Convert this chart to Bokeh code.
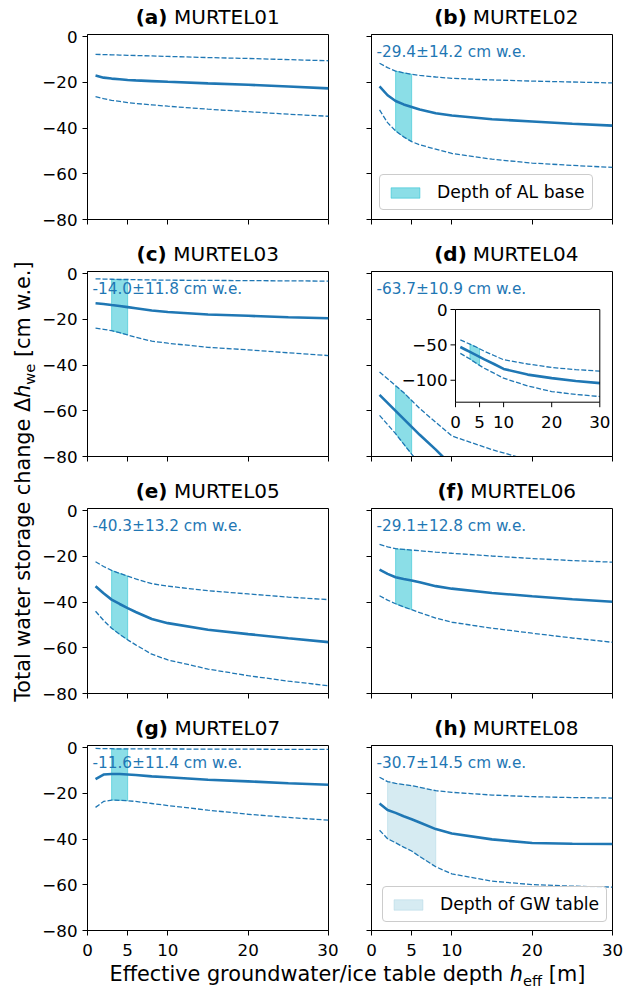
import math
from bokeh.plotting import figure
from bokeh.models import Range1d, FixedTicker, Label, Legend, LegendItem
from bokeh.layouts import row, column
from bokeh.embed import file_html
from bokeh.resources import INLINE
from bokeh.core.properties import value

# ---------------- data ----------------
depth = [1, 2, 3, 4, 5, 6, 8, 10, 15, 20, 25, 30]
x_ticks = [0, 5, 10, 20, 30]
y_ticks = [0, -20, -40, -60, -80]
y_tick_labels = ["0", "\u221220", "\u221240", "\u221260", "\u221280"]
x_tick_labels = ["0", "5", "10", "20", "30"]
inset_y_ticks = [0, -50, -100]
inset_y_labels = ["0", "\u221250", "\u2212100"]

panel_letters = ["(a)", "(b)", "(c)", "(d)", "(e)", "(f)", "(g)", "(h)"]
site_names = ["MURTEL01", "MURTEL02", "MURTEL03", "MURTEL04",
              "MURTEL05", "MURTEL06", "MURTEL07", "MURTEL08"]

mean_a = [-17.0, -17.9, -18.3, -18.6, -18.9, -19.1, -19.4, -19.7, -20.4, -21.0, -21.8, -22.6]
upper_a = [-7.7, -7.8, -7.9, -8.0, -8.1, -8.2, -8.4, -8.6, -9.1, -9.5, -10.0, -10.5]
lower_a = [-26.2, -27.1, -27.8, -28.3, -28.8, -29.2, -29.8, -30.4, -31.7, -32.8, -33.9, -34.8]

mean_b = [-21.7, -25.6, -28.1, -29.6, -30.7, -31.8, -33.5, -34.5, -36.1, -37.1, -38.1, -38.9]
upper_b = [-11.6, -13.5, -15.0, -15.8, -16.4, -16.9, -17.6, -18.2, -18.9, -19.4, -19.8, -20.2]
lower_b = [-32.0, -37.6, -41.2, -43.8, -45.9, -47.3, -49.2, -51.1, -53.6, -55.3, -56.3, -57.2]

mean_c = [-12.9, -13.2, -13.7, -14.1, -14.6, -15.1, -16.1, -16.7, -17.8, -18.4, -19.0, -19.5]
upper_c = [-2.2, -2.3, -2.4, -2.5, -2.5, -2.6, -2.7, -2.8, -2.9, -3.0, -3.1, -3.2]
lower_c = [-23.8, -24.3, -24.9, -25.8, -26.8, -27.8, -29.5, -30.4, -32.2, -33.3, -34.6, -35.8]

mean_d = [-53.0, -56.5, -60.0, -63.5, -67.0, -70.5, -77.0, -84.0, -92.0, -97.0, -101.0, -104.0]
upper_d = [-43.0, -46.0, -49.0, -52.0, -55.5, -59.0, -65.0, -71.0, -77.0, -82.0, -85.0, -87.0]
lower_d = [-62.0, -66.0, -70.0, -74.5, -79.0, -83.0, -90.0, -97.0, -108.0, -116.0, -120.0, -123.0]

mean_e = [-33.0, -36.1, -38.9, -40.8, -42.6, -44.3, -47.4, -49.2, -52.1, -54.0, -55.8, -57.5]
upper_e = [-22.3, -24.4, -26.1, -27.4, -28.6, -29.8, -31.9, -33.0, -35.0, -36.4, -37.8, -38.9]
lower_e = [-44.0, -48.0, -51.4, -54.1, -56.5, -58.7, -62.8, -65.3, -69.3, -72.2, -74.6, -76.6]

mean_f = [-25.8, -27.6, -29.1, -29.9, -30.5, -31.3, -33.0, -34.1, -36.0, -37.4, -38.7, -39.8]
upper_f = [-14.7, -15.8, -16.6, -16.9, -17.2, -17.5, -18.1, -18.6, -19.8, -20.9, -21.8, -22.5]
lower_f = [-37.2, -39.1, -40.7, -42.1, -43.3, -44.6, -47.0, -48.8, -51.4, -53.6, -55.7, -57.6]

mean_g = [-13.7, -11.7, -11.5, -11.5, -11.7, -11.9, -12.5, -12.9, -14.0, -14.7, -15.5, -16.2]
upper_g = [-0.3, -0.4, -0.4, -0.5, -0.5, -0.5, -0.5, -0.5, -0.6, -0.6, -0.7, -0.7]
lower_g = [-26.1, -23.5, -22.9, -23.0, -23.2, -23.5, -24.4, -25.3, -27.3, -29.1, -30.5, -31.7]

mean_h = [-24.4, -27.2, -28.5, -30.0, -31.3, -32.7, -35.6, -37.5, -40.1, -41.7, -42.0, -42.1]
upper_h = [-12.9, -14.8, -15.6, -16.1, -16.6, -17.3, -18.8, -19.5, -20.7, -21.4, -21.8, -22.0]
lower_h = [-36.1, -39.8, -41.6, -43.5, -45.2, -47.6, -52.1, -55.2, -58.4, -59.9, -60.6, -61.0]

means = [mean_a, mean_b, mean_c, mean_d, mean_e, mean_f, mean_g, mean_h]
uppers = [upper_a, upper_b, upper_c, upper_d, upper_e, upper_f, upper_g, upper_h]
lowers = [lower_a, lower_b, lower_c, lower_d, lower_e, lower_f, lower_g, lower_h]

storage_texts = [None, "-29.4\u00b114.2 cm w.e.", "-14.0\u00b111.8 cm w.e.", "-63.7\u00b110.9 cm w.e.",
                 "-40.3\u00b113.2 cm w.e.", "-29.1\u00b112.8 cm w.e.", "-11.6\u00b111.4 cm w.e.",
                 "-30.7\u00b114.5 cm w.e."]
band_start = [None, 3, 3, 3, 3, 3, 3, 2]
band_end = [None, 5, 5, 5, 5, 5, 5, 8]
band_kind = [None, "AL", "AL", "AL", "AL", "AL", "AL", "GW"]
legend_labels = {"AL": "Depth of AL base", "GW": "Depth of GW table"}
legend_panels = [1, 7]

# ---------------- styles ----------------
FONT = "DejaVu Sans"
C0 = "#1f77b4"
BAND_COLORS = {"AL": "#17becf", "GW": "#add8e6"}
TICK_FS = "16.7px"
LEG_FS = "17.2px"
TITLE_FS = 20.0
LABEL_FS = 20.8
SUB_FS = 14.6
NOTE_FS = "15.3px"
BASE_SHIFT = 0.37   # renderer draws the alphabetic baseline this many em below the anchor

W_REG = {' ': .318, '(': .390, ')': .390, '-': .361, '.': .318, '/': .337, 'A': .684, 'D': .770,
         'E': .632, 'G': .776, 'L': .557, 'M': .863, 'R': .695, 'T': .611, 'U': .732, 'W': .989,
         '[': .390, ']': .390, 'a': .613, 'b': .635, 'c': .550, 'd': .635, 'e': .615, 'f': .352,
         'g': .635, 'h': .634, 'i': .278, 'l': .278, 'm': .974, 'n': .634, 'o': .612, 'p': .635,
         'r': .411, 's': .521, 't': .392, 'u': .634, 'v': .592, 'w': .818, 'y': .592, '\u0394': .684}
W_BOLD = {'(': .457, ')': .457, ' ': .348, 'a': .675, 'b': .716, 'c': .593, 'd': .716, 'e': .678,
          'f': .435, 'g': .716, 'h': .712}


def tw(s, size, bold=False):
    tab = W_BOLD if bold else W_REG
    return sum((tab.get(ch, 0.636)) for ch in s) * size


YL_W = 40            # global y-label strip
YT_W = 41            # y tick-label strip of the left column
LEFT_B, FRAME_W, LEFT_R = 6, 241, 10
RIGHT_L, RIGHT_R = 33, 11
TITLE_H = 31
TOP_B, FRAME_H, BOT_B, BOT_B_LAST = 3, 185, 18, 33
XL_H = 26
GRID_W = YT_W + LEFT_B + FRAME_W + LEFT_R + RIGHT_L + FRAME_W + RIGHT_R
TOTAL_H = 3 * (TITLE_H + TOP_B + FRAME_H + BOT_B) + (TITLE_H + TOP_B + FRAME_H + BOT_B_LAST) + XL_H


def label_fig(w, h):
    f = figure(width=w, height=h, x_range=Range1d(0, w), y_range=Range1d(0, h),
               output_backend="svg", toolbar_location=None, tools="",
               x_axis_type=None, y_axis_type=None, min_border=0)
    f.outline_line_color = None
    f.background_fill_color = "white"
    f.border_fill_color = "white"
    return f


def put_text(f, x, y, s, size, style="normal", align="left", angle=0.0):
    f.text(x=[x], y=[y], text=[s], angle=angle, text_align=align, text_baseline="alphabetic",
           text_font=value(FONT), text_font_size=value("%.1fpx" % size),
           text_font_style=value(style), text_color="black")


def style_axis(ax):
    ax.axis_line_color = "black"
    ax.axis_line_width = 1
    ax.major_tick_line_color = "black"
    ax.major_tick_line_width = 1
    ax.major_tick_in = 0
    ax.major_tick_out = 5
    ax.minor_tick_line_color = None
    ax.major_label_text_font = FONT
    ax.major_label_text_font_size = TICK_FS
    ax.major_label_text_color = "black"


def style_panel(p, show_x_labels):
    p.xgrid.visible = False
    p.ygrid.visible = False
    p.outline_line_color = "black"
    p.outline_line_width = 1
    p.outline_line_alpha = 1
    p.background_fill_color = "white"
    p.border_fill_color = "white"
    style_axis(p.xaxis[0])
    style_axis(p.yaxis[0])
    p.xaxis[0].ticker = FixedTicker(ticks=x_ticks)
    p.yaxis[0].ticker = FixedTicker(ticks=y_ticks)
    p.xaxis[0].major_label_standoff = 8
    if show_x_labels:
        p.xaxis[0].major_label_overrides = {t: l for t, l in zip(x_ticks, x_tick_labels)}
    else:
        p.xaxis[0].major_label_overrides = {t: "" for t in x_ticks}
        p.xaxis[0].major_label_text_font_size = "0px"
        p.xaxis[0].major_label_standoff = 0
    # y tick labels of the left column live in their own strip
    p.yaxis[0].major_label_overrides = {t: "" for t in y_ticks}
    p.yaxis[0].major_label_text_font_size = "0px"
    p.yaxis[0].major_label_standoff = 0


def band_polygon(xv, up, lo, a, b):
    idx = [k for k, xx in enumerate(xv) if a <= xx <= b]
    xs = [xv[k] for k in idx] + [xv[k] for k in reversed(idx)]
    ys = [up[k] for k in idx] + [lo[k] for k in reversed(idx)]
    return xs, ys


cells = []
for i in range(8):
    r, c = divmod(i, 2)
    left = (c == 0)
    bottom = (r == 3)
    bb = BOT_B_LAST if bottom else BOT_B
    bl = LEFT_B if left else RIGHT_L
    w = (LEFT_B + FRAME_W + LEFT_R) if left else (RIGHT_L + FRAME_W + RIGHT_R)
    h = TOP_B + FRAME_H + bb
    p = figure(width=w, height=h, x_range=Range1d(0, 30), y_range=Range1d(-80, 1),
               output_backend="svg", toolbar_location=None, tools="",
               min_border_left=bl, min_border_right=LEFT_R if left else RIGHT_R,
               min_border_top=TOP_B, min_border_bottom=bb)
    style_panel(p, bottom)

    band_r = None
    if band_kind[i] is not None:
        xs, ys = band_polygon(depth, uppers[i], lowers[i], band_start[i], band_end[i])
        col = BAND_COLORS[band_kind[i]]
        band_r = p.patch(xs, ys, fill_color=col, fill_alpha=0.5,
                         line_color=col, line_alpha=0.5, line_width=1)

    p.line(depth, uppers[i], line_color=C0, line_width=1.3, line_dash="5 2")
    p.line(depth, lowers[i], line_color=C0, line_width=1.3, line_dash="5 2")
    p.line(depth, means[i], line_color=C0, line_width=2.6)

    if storage_texts[i] is not None:
        p.add_layout(Label(x=0, y=1, x_offset=5, y_offset=-17, text=storage_texts[i],
                           text_font=FONT, text_font_size=NOTE_FS, text_color=C0,
                           text_align="left", text_baseline="alphabetic"))

    if i in legend_panels and band_r is not None:
        loc = (8, 9) if i == 1 else (11, 8)
        leg = Legend(items=[LegendItem(label=legend_labels[band_kind[i]], renderers=[band_r])],
                     location=loc, label_text_font=FONT, label_text_font_size=LEG_FS,
                     label_text_color="black", glyph_width=36, glyph_height=13,
                     label_standoff=14, padding=7, margin=0, spacing=0,
                     border_line_color="#cccccc", border_line_width=1, border_line_alpha=1,
                     background_fill_color="white", background_fill_alpha=0.8)
        try:
            leg.border_radius = 4
        except Exception:
            pass
        p.add_layout(leg)

    if i == 3:
        px_x = FRAME_W / 30.0
        px_y = FRAME_H / 81.0
        in_x = Range1d(0, 30)
        in_y = Range1d(-131, 0)
        tx = Range1d(84 / px_x, 228.3 / px_x)
        ty = Range1d(1 - 130.7 / px_y, 1 - 38 / px_y)
        sub = p.subplot(x_source=in_x, y_source=in_y, x_target=tx, y_target=ty)
        sub.quad(left=[in_x.start], right=[in_x.end], bottom=[in_y.start], top=[in_y.end],
                 fill_color="white", line_color=None)
        xs, ys = band_polygon(depth, uppers[i], lowers[i], band_start[i], band_end[i])
        sub.patch(xs, ys, fill_color=BAND_COLORS["AL"], fill_alpha=0.5,
                  line_color=BAND_COLORS["AL"], line_alpha=0.5, line_width=1)
        sub.line(depth, uppers[i], line_color=C0, line_width=1.3, line_dash="5 2")
        sub.line(depth, lowers[i], line_color=C0, line_width=1.3, line_dash="5 2")
        sub.line(depth, means[i], line_color=C0, line_width=2.6)
        sub.quad(left=[in_x.start], right=[in_x.end], bottom=[in_y.start], top=[in_y.end],
                 fill_color=None, line_color="black", line_width=1)
        sub.ray(x=x_ticks, y=[in_y.start] * len(x_ticks), length=5, length_units="screen",
                angle=-math.pi / 2, line_color="black", line_width=1)
        sub.ray(x=[in_x.start] * len(inset_y_ticks), y=inset_y_ticks, length=5,
                length_units="screen", angle=math.pi, line_color="black", line_width=1)
        sub.text(x=x_ticks, y=[in_y.start] * len(x_ticks), text=x_tick_labels,
                 text_align="center", text_baseline="alphabetic", y_offset=19.5,
                 text_font=value(FONT), text_font_size=value(TICK_FS), text_color="black")
        sub.text(x=[in_x.start] * len(inset_y_ticks), y=inset_y_ticks, text=inset_y_labels,
                 text_align="right", text_baseline="middle", x_offset=-8,
                 text_font=value(FONT), text_font_size=value(TICK_FS), text_color="black")

    # title strip above the panel: bold letter + normal site name
    tf = label_fig(w, TITLE_H)
    centre = bl + FRAME_W / 2.0
    bw = tw(panel_letters[i] + " ", TITLE_FS, bold=True)
    nw = tw(site_names[i], TITLE_FS)
    split = centre - (bw + nw) / 2.0 + bw
    ty_anchor = (TITLE_H - 24.0) + BASE_SHIFT * TITLE_FS
    put_text(tf, split - tw(" ", TITLE_FS, bold=True), ty_anchor, panel_letters[i], TITLE_FS,
             style="bold", align="right")
    put_text(tf, split, ty_anchor, site_names[i], TITLE_FS, align="left")
    stack = column(tf, p)

    if left:
        cell_h = TITLE_H + h
        yt = figure(width=YT_W, height=cell_h, x_range=Range1d(0, 1), y_range=p.y_range,
                    output_backend="svg", toolbar_location=None, tools="",
                    x_axis_type=None, min_border_left=YT_W - 1, min_border_right=0,
                    min_border_top=TITLE_H + TOP_B, min_border_bottom=bb)
        yt.outline_line_color = None
        yt.ygrid.visible = False
        yt.background_fill_color = "white"
        yt.border_fill_color = "white"
        ya = yt.yaxis[0]
        ya.ticker = FixedTicker(ticks=y_ticks)
        ya.major_label_overrides = {t: l for t, l in zip(y_ticks, y_tick_labels)}
        ya.axis_line_color = None
        ya.major_tick_line_color = None
        ya.major_tick_in = 0
        ya.major_tick_out = 0
        ya.minor_tick_line_color = None
        ya.major_label_standoff = 4
        ya.major_label_text_font = FONT
        ya.major_label_text_font_size = TICK_FS
        ya.major_label_text_color = "black"
        cells.append(row(yt, stack))
    else:
        cells.append(stack)

# ---------------- global axis labels ----------------
ylab = label_fig(YL_W, TOTAL_H)
y_first = "Total water storage change \u0394"
y_h, y_sub, y_last = "h", "we", "[cm w.e.]"
ylen = (tw(y_first, LABEL_FS) + tw(y_h, LABEL_FS) + tw(y_sub, SUB_FS)
        + tw(" ", LABEL_FS) + tw(y_last, LABEL_FS))
y_center = TOTAL_H - 482
h_start = y_center - ylen / 2 + tw(y_first, LABEL_FS)
bx = 30 - BASE_SHIFT * LABEL_FS
put_text(ylab, bx, h_start, y_first, LABEL_FS, align="right", angle=math.pi / 2)
put_text(ylab, bx, h_start, y_h, LABEL_FS, style="italic", angle=math.pi / 2)
sub_start = h_start + tw(y_h, LABEL_FS)
put_text(ylab, 30 + 4 - BASE_SHIFT * SUB_FS, sub_start, y_sub, SUB_FS, angle=math.pi / 2)
put_text(ylab, bx, sub_start + tw(y_sub, SUB_FS) + tw(" ", LABEL_FS), y_last, LABEL_FS,
         angle=math.pi / 2)

xlab = label_fig(GRID_W, XL_H)
x_first = "Effective groundwater/ice table depth"
x_h, x_sub, x_last = "h", "eff", "[m]"
xlen = (tw(x_first, LABEL_FS) + tw(" ", LABEL_FS) + tw(x_h, LABEL_FS) + tw(x_sub, SUB_FS)
        + tw(" ", LABEL_FS) + tw(x_last, LABEL_FS))
xh_start = (346.5 - YL_W) - xlen / 2 + tw(x_first, LABEL_FS) + tw(" ", LABEL_FS)
base_y = TOTAL_H - 981
by = base_y + BASE_SHIFT * LABEL_FS
put_text(xlab, xh_start - tw(" ", LABEL_FS), by, x_first, LABEL_FS, align="right")
put_text(xlab, xh_start, by, x_h, LABEL_FS, style="italic")
xs_start = xh_start + tw(x_h, LABEL_FS)
put_text(xlab, xs_start, base_y - 4 + BASE_SHIFT * SUB_FS, x_sub, SUB_FS)
put_text(xlab, xs_start + tw(x_sub, SUB_FS) + tw(" ", LABEL_FS), by, x_last, LABEL_FS)

grid_rows = [row(cells[2 * k], cells[2 * k + 1]) for k in range(4)]
layout = row(ylab, column(*grid_rows, xlab))

open("out.html", "w").write(file_html(layout, INLINE))
